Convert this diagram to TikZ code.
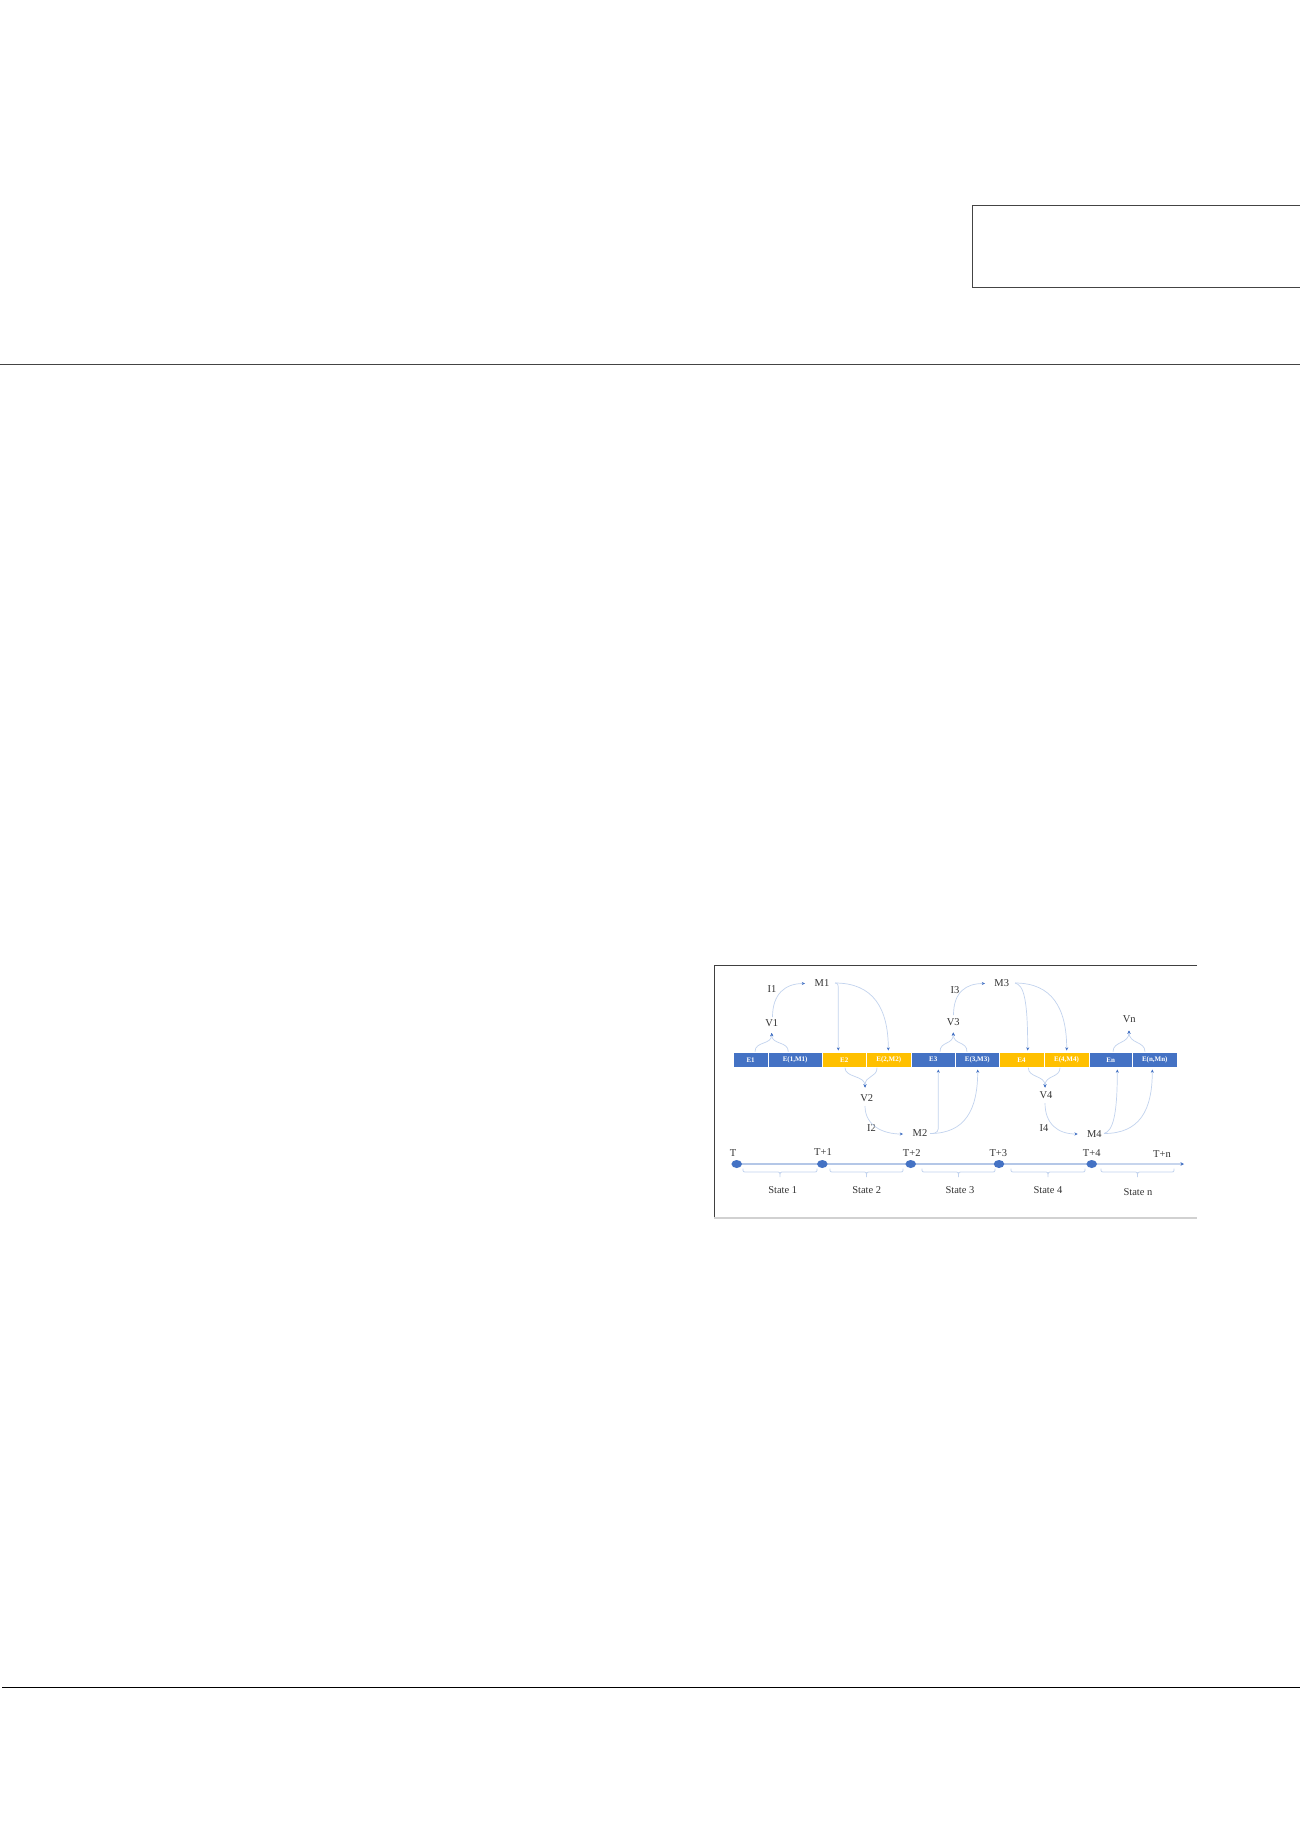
\documentclass[tikz,border=0pt]{standalone}
\usepackage{fontspec}
\setmainfont{Liberation Serif}
\usetikzlibrary{arrows.meta,shapes.geometric}
\definecolor{segblue}{HTML}{4472C4}
\definecolor{segyellow}{HTML}{FFC000}
\definecolor{linkblue}{HTML}{C2D3EE}
\definecolor{tlblue}{HTML}{B4C7E7}
\definecolor{tipblue}{HTML}{4472C4}
\definecolor{txtgray}{HTML}{333333}
\definecolor{pagegray}{HTML}{444444}
\tikzset{
  seg/.style={draw=white, line width=0.5pt, minimum height=15.6pt, inner sep=0pt, text=white,
    font=\fontsize{7}{8}\selectfont\bfseries, anchor=west},
  bseg/.style={seg, fill=segblue},
  yseg/.style={seg, fill=segyellow},
  lbl/.style={font=\fontsize{10.5}{12}\selectfont, text=txtgray, inner sep=0pt},
  link/.style={draw=linkblue, line width=0.7pt, -{Stealth[length=3.2pt,width=3pt,color=tipblue]}},
  timeline/.style={draw=tlblue, line width=2pt},
  tdot/.style={ellipse, fill=segblue, minimum width=10.5pt, minimum height=8pt, inner sep=0pt},
  bracestyle/.style={draw=linkblue, line width=0.8pt},
  pageline/.style={draw=pagegray, line width=1.3pt},
}
\begin{document}
\begin{tikzpicture}[x=1pt,y=-1pt]
\useasboundingbox (0,0) rectangle (1300,1839);
\fill[white] (0,0) rectangle (1300,1839);

% page elements
\draw[pageline] (1305,205.3) -- (972.3,205.3) -- (972.3,287.3) -- (1305,287.3);
\draw[pageline] (0,364.5) -- (1300,364.5);
\draw[black, line width=1pt] (2,1687.3) -- (1300,1687.3);

% figure frame
\draw[draw=black!75, line width=0.9pt] (1197,965) -- (714,965) -- (714,1218);
\draw[draw=black!18, line width=1.6pt] (714,1218) -- (1197,1218);

% bar segments
\node[bseg, minimum width=34.7pt] (e1)  at (733,1059.7)   {E1};
\node[bseg, minimum width=54.3pt] (em1) at (767.7,1059.7) {E(1,M1)};
\node[yseg, minimum width=44pt]   (e2)  at (822,1059.7)   {E2};
\node[yseg, minimum width=45pt]   (em2) at (866,1059.7)   {E(2,M2)};
\node[bseg, minimum width=44pt]   (e3)  at (911,1059.7)   {E3};
\node[bseg, minimum width=44pt]   (em3) at (955,1059.7)   {E(3,M3)};
\node[yseg, minimum width=44.5pt] (e4)  at (999,1059.7)   {E4};
\node[yseg, minimum width=45.5pt] (em4) at (1043.5,1059.7){E(4,M4)};
\node[bseg, minimum width=43pt]   (en)  at (1089,1059.7)  {En};
\node[bseg, minimum width=45pt]   (emn) at (1132,1059.7)  {E(n,Mn)};

% labels
\node[lbl] (I1) at (772,989)      {I1};
\node[lbl] (M1) at (822,983.5)    {M1};
\node[lbl] (V1) at (771.7,1023.5) {V1};
\node[lbl] (I3) at (955,990)      {I3};
\node[lbl] (M3) at (1001.7,983.5) {M3};
\node[lbl] (V3) at (953.3,1022)   {V3};
\node[lbl] (Vn) at (1129.3,1019.5){Vn};
\node[lbl] (V2) at (866.7,1098.5) {V2};
\node[lbl] (I2) at (871.5,1128.5) {I2};
\node[lbl] (M2) at (920,1133.5)   {M2};
\node[lbl] (V4) at (1046,1095.5)  {V4};
\node[lbl] (I4) at (1044,1128.5)  {I4};
\node[lbl] (M4) at (1094.3,1134)  {M4};

% connector end points
\coordinate (v1tip) at (771.7,1033);
\coordinate (m1tip) at (805,983.5);
\coordinate (m1out) at (835,983);
\coordinate (v2tip) at (865,1087.5);
\coordinate (m2tip) at (903,1134);
\coordinate (m2out) at (930,1133.5);
\coordinate (v3tip) at (953.3,1032.5);
\coordinate (m3tip) at (985,983.5);
\coordinate (m3out) at (1015,983);
\coordinate (v4tip) at (1045,1087.5);
\coordinate (m4tip) at (1077.7,1134);
\coordinate (m4out) at (1104,1133.5);
\coordinate (vntip) at (1129,1030.5);

% state 1 / 2 connectors
\draw[link] (755,1051.7) .. controls (755,1041) and (771.7,1045) .. (v1tip);
\draw[link] (788.3,1051.7) .. controls (788.3,1041) and (771.7,1045) .. (v1tip);
\draw[link] (772.5,1017) .. controls (772.5,994) and (785,983.5) .. (m1tip);
\draw[link] (m1out) .. controls (838.3,983) and (838.3,985) .. (838.3,991) -- (838.3,1050.5);
\draw[link] (m1out) .. controls (873,983) and (888.3,1008) .. (888.3,1050.5);

\draw[link] (845,1067.7) .. controls (845,1078) and (865,1075) .. (v2tip);
\draw[link] (877,1067.7) .. controls (877,1078) and (865,1075) .. (v2tip);
\draw[link] (865,1106) .. controls (865,1125) and (882,1134) .. (m2tip);
\draw[link] (m2out) .. controls (938.3,1133.5) and (938.3,1131) .. (938.3,1125) -- (938.3,1069.5);
\draw[link] (m2out) .. controls (965,1133.5) and (977.7,1110) .. (977.7,1069.5);

% state 3 / 4 connectors
\draw[link] (940,1051.7) .. controls (940,1041) and (953.3,1045) .. (v3tip);
\draw[link] (967,1051.7) .. controls (967,1041) and (953.3,1045) .. (v3tip);
\draw[link] (953.5,1015) .. controls (953.5,992) and (966,983.5) .. (m3tip);
\draw[link] (m3out) .. controls (1024,985) and (1027.7,1000) .. (1027.7,1050.5);
\draw[link] (m3out) .. controls (1052,983) and (1066.7,1008) .. (1066.7,1050.5);

\draw[link] (1028.3,1067.7) .. controls (1028.3,1078) and (1045,1075) .. (v4tip);
\draw[link] (1060,1067.7) .. controls (1060,1078) and (1045,1075) .. (v4tip);
\draw[link] (1045,1103) .. controls (1045,1124) and (1058,1134) .. (m4tip);
\draw[link] (m4out) .. controls (1113,1131) and (1117.3,1115) .. (1117.3,1069.5);
\draw[link] (m4out) .. controls (1140,1133.5) and (1152.3,1110) .. (1152.3,1069.5);

% state n
\draw[link] (1113,1051.7) .. controls (1113,1041) and (1129,1044) .. (vntip);
\draw[link] (1145,1051.7) .. controls (1145,1041) and (1129,1044) .. (vntip);

% timeline
\coordinate (tend) at (1184,1164);
\draw[timeline] (736.7,1164) -- (1091.7,1164);
\draw[draw=tlblue!75, line width=1.5pt, -{Stealth[length=3.5pt,width=3.5pt,color=tipblue]}] (1091.7,1164) -- (tend);
\node[tdot] (t0) at (736.7,1164) {};
\node[tdot] (t1) at (822.3,1164) {};
\node[tdot] (t2) at (910.7,1164) {};
\node[tdot] (t3) at (999,1164) {};
\node[tdot] (t4) at (1091.7,1164) {};

\node[lbl] (T0) at (733,1153.5)   {T};
\node[lbl] (T1) at (823,1152.5)   {T+1};
\node[lbl] (T2) at (911.7,1153.5) {T+2};
\node[lbl] (T3) at (998.3,1153.5) {T+3};
\node[lbl] (T4) at (1091.7,1153.5){T+4};
\node[lbl] (Tn) at (1162,1154)    {T+n};

% braces
\foreach \a/\b in {743/817, 830/903, 922/995, 1011/1085, 1101/1174}{
  \pgfmathsetmacro{\m}{(\a+\b)/2}
  \draw[bracestyle] (\a,1168.5) .. controls (\a,1172) .. (\a+4,1172) -- (\m-4,1172)
     .. controls (\m,1172) .. (\m,1177) .. controls (\m,1172) .. (\m+4,1172) -- (\b-4,1172)
     .. controls (\b,1172) .. (\b,1168.5);
}
\node[lbl] (S1) at (782.7,1190) {State 1};
\node[lbl] (S2) at (866.7,1190) {State 2};
\node[lbl] (S3) at (960,1190)   {State 3};
\node[lbl] (S4) at (1048,1190)  {State 4};
\node[lbl] (Sn) at (1138,1192)  {State n};
\end{tikzpicture}
\end{document}
